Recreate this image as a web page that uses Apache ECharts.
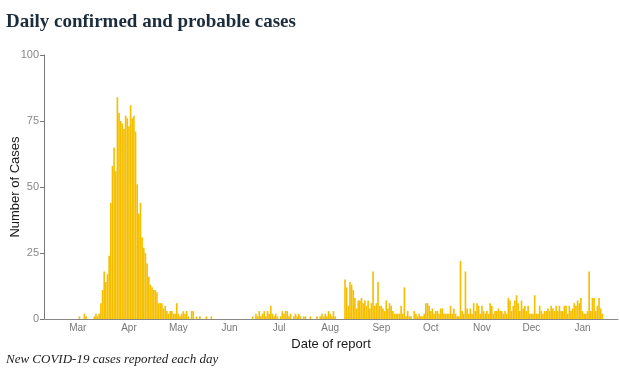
<!DOCTYPE html>
<html>
<head>
<meta charset="utf-8">
<script src="https://cdn.jsdelivr.net/npm/echarts@6/dist/echarts.min.js"></script>
<style>
html,body{margin:0;padding:0;background:#fff;}
#chart{width:620px;height:378px;}
</style>
</head>
<body>
<div id="chart"></div>
<script>
// Axis range (first and last day shown on the date axis)
var axisStart = '2020-02-10';
var axisDays = 348;
// First day of the case series
var seriesStart = '2020-03-01';
// Daily confirmed and probable cases, from 2020-03-01 onward
var dailyCases = [
  0,1,0,0,2,1,0,0,0,0,
  1,2,1,2,6,11,18,14,17,24,
  44,58,65,56,84,78,75,74,72,77,
  76,73,81,76,77,71,51,40,44,31,
  27,25,21,16,13,12,11,11,10,6,
  6,6,4,5,3,2,3,3,2,2,
  6,2,1,2,3,2,3,1,0,3,
  3,0,1,0,1,0,0,0,1,0,
  0,1,0,0,0,0,0,0,0,0,
  0,0,0,0,0,0,0,0,0,0,
  0,0,0,0,0,0,1,0,2,1,
  3,1,2,3,1,3,2,5,2,1,
  2,1,0,1,3,2,3,3,1,2,
  0,1,2,1,2,1,0,1,1,0,
  0,1,0,0,0,1,0,1,2,1,
  2,1,3,2,1,3,1,0,0,0,
  0,0,15,12,5,14,13,11,8,4,
  7,7,8,6,7,5,7,4,6,18,
  5,6,14,5,5,4,3,7,4,6,
  5,3,2,2,2,2,5,2,12,1,
  3,1,1,0,3,2,1,2,1,1,
  2,6,6,5,3,4,2,3,3,2,
  4,4,2,2,2,2,5,2,4,2,
  1,1,22,3,2,18,4,2,4,2,
  6,3,6,5,2,5,3,2,3,2,
  6,5,2,3,3,4,3,3,2,3,
  2,8,7,3,5,7,9,6,3,7,
  4,5,3,5,2,2,2,9,2,2,
  5,3,2,3,3,4,3,5,4,3,
  5,3,5,3,3,5,5,2,5,3,
  4,6,5,7,6,8,3,2,2,3,
  18,3,8,8,3,5,8,4,2
];
var monthLabels = ['Jan','Feb','Mar','Apr','May','Jun','Jul','Aug','Sep','Oct','Nov','Dec'];
var yTicks = {min: 0, max: 100, step: 25};
var titleText = 'Daily confirmed and probable cases';
var captionText = 'New COVID-19 cases reported each day';
var xName = 'Date of report';
var yName = 'Number of Cases';

function fmt(d){
  var m = d.getUTCMonth()+1, day = d.getUTCDate();
  return d.getUTCFullYear()+'-'+(m<10?'0':'')+m+'-'+(day<10?'0':'')+day;
}
var categories = [];
var t0 = Date.parse(axisStart+'T00:00:00Z');
for (var i=0;i<axisDays;i++){ categories.push(fmt(new Date(t0+i*86400000))); }
var offset = categories.indexOf(seriesStart);
var values = categories.map(function(c,i){
  var k = i - offset;
  return (k>=0 && k<dailyCases.length) ? dailyCases[k] : null;
});
function isMonthStart(idx, val){ return String(val).slice(8,10)==='01'; }

var chart = echarts.init(document.getElementById('chart'), null, {renderer:'canvas'});
chart.setOption({
  animation:false,
  backgroundColor:'#ffffff',
  title:[
    {text:titleText,left:6,top:13,padding:0,textStyle:{fontFamily:'Liberation Serif',fontWeight:'bold',fontSize:19,color:'#1b2c3c'}},
    {text:captionText,left:6,top:353,padding:0,textStyle:{fontFamily:'Liberation Serif',fontStyle:'italic',fontWeight:'normal',fontSize:13,color:'#222'}}
  ],
  grid:{left:44,right:2,top:55,bottom:59,containLabel:false,outerBoundsMode:'none'},
  xAxis:{
    type:'category',data:categories,boundaryGap:true,
    name:xName,nameLocation:'middle',nameGap:18,
    nameTextStyle:{fontFamily:'Liberation Sans',fontSize:13,color:'#1a1a1a'},
    axisLine:{lineStyle:{color:'#888',width:1}},
    axisTick:{alignWithLabel:true,interval:isMonthStart,length:3,lineStyle:{color:'#666'}},
    axisLabel:{interval:isMonthStart,margin:4,fontFamily:'Liberation Sans',fontSize:10,color:'#777',
      formatter:function(v){ return monthLabels[parseInt(v.slice(5,7),10)-1]; }},
    splitLine:{show:false}
  },
  yAxis:{
    type:'value',min:yTicks.min,max:yTicks.max,interval:yTicks.step,
    name:yName,nameLocation:'middle',nameRotate:90,nameGap:22,nameMoveOverlap:false,
    nameTextStyle:{fontFamily:'Liberation Sans',fontSize:13,color:'#1a1a1a'},
    axisLine:{show:true,lineStyle:{color:'#777',width:1}},
    axisTick:{show:true,length:4,lineStyle:{color:'#777'}},
    axisLabel:{margin:5,fontFamily:'Liberation Sans',fontSize:11,color:'#888'},
    splitLine:{show:false}
  },
  series:[{
    type:'bar',data:values,barCategoryGap:'0%',
    itemStyle:{color:'#f5bf00'}
  }]
});
</script>
</body>
</html>
